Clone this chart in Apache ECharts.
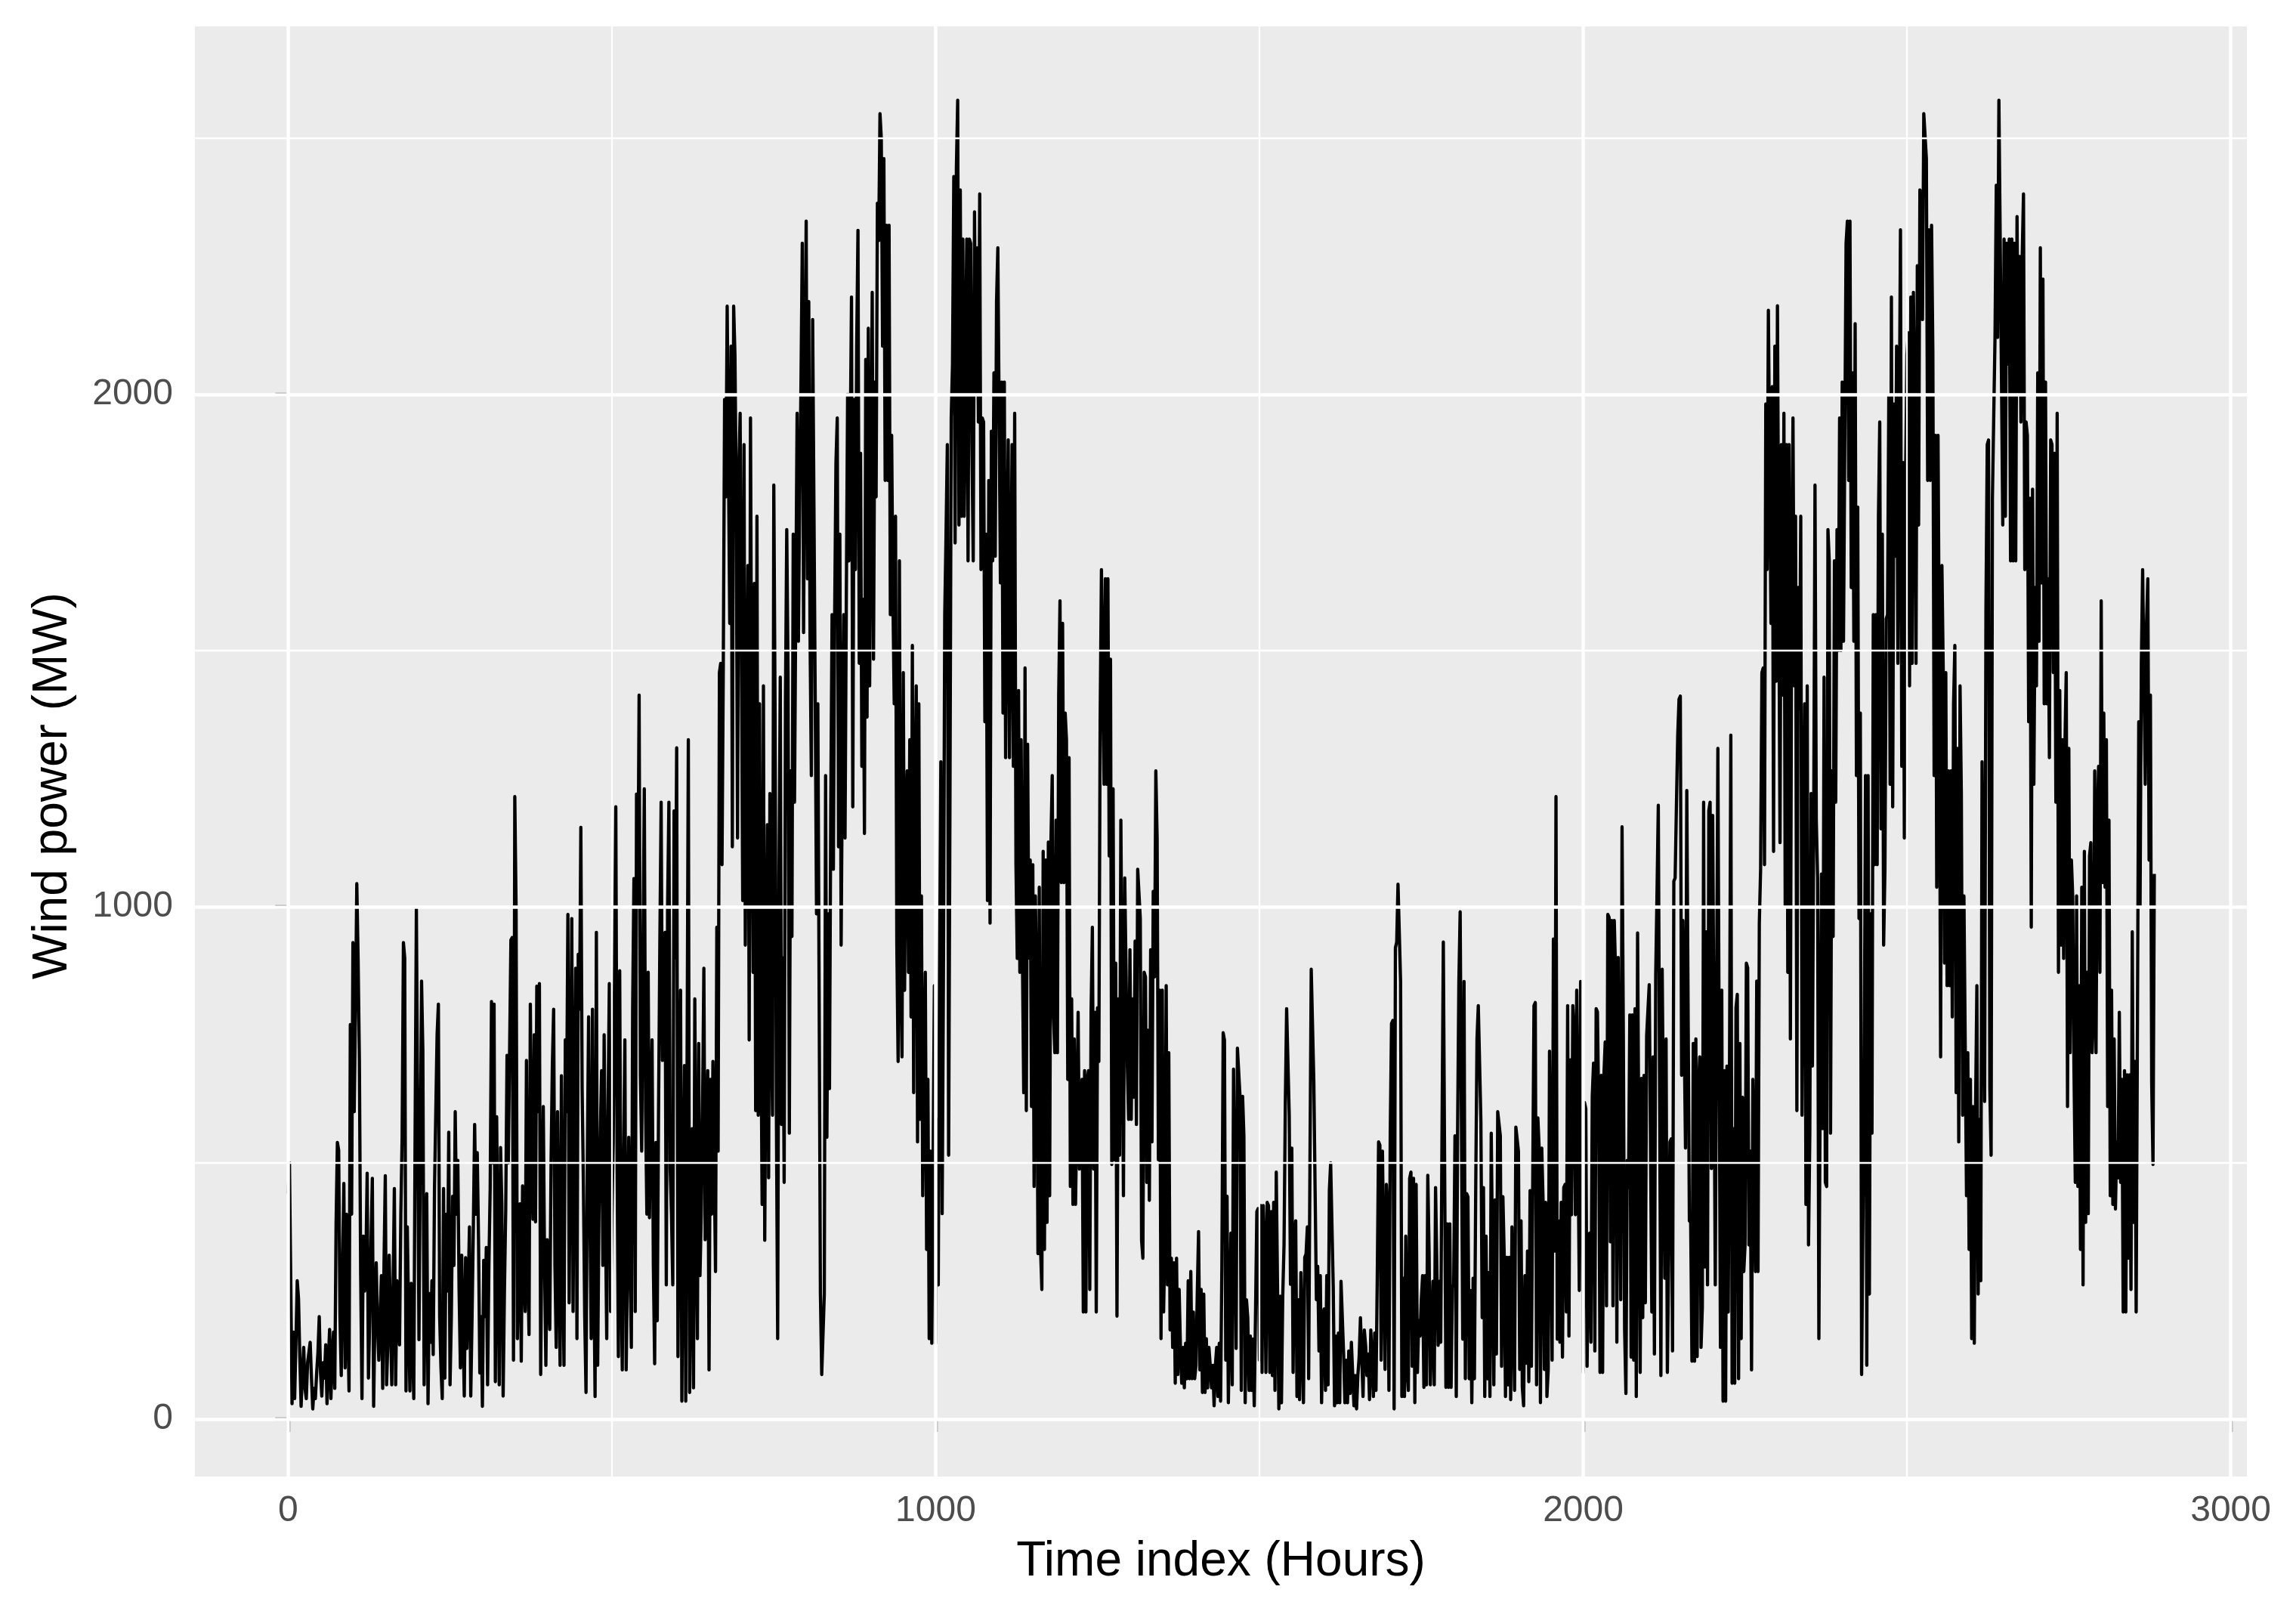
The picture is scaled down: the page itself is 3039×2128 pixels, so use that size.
<!DOCTYPE html>
<html><head><meta charset="utf-8">
<script src="https://cdn.jsdelivr.net/npm/echarts@6/dist/echarts.min.js"></script>
<style>html,body{margin:0;padding:0;background:#ffffff}#c{width:3039px;height:2128px}</style>
</head><body><div id="c"></div>
<script>
// Tick values
const xMajor = [0, 1000, 2000, 3000];
const xMinor = [500, 1500, 2500];
const yMajor = [0, 1000, 2000];
const yMinor = [500, 1500, 2500];

const HOUR_STEP = 2;
const segStart = [0, 352, 726, 1086, 1448, 1806, 2166, 2522];

const powerA = [
440,500,270,30,170,40,150,270,235,120,
25,90,140,60,40,110,130,150,80,20,
60,40,90,130,200,90,45,110,80,145,
30,110,175,40,120,170,60,380,540,525,
200,85,300,460,100,400,200,55,770,400,
930,600,800,1045,900,700,280,40,357,250,
300,480,80,200,350,470,25,200,305,180,
115,200,280,60,300,475,67,150,320,200,
67,250,450,67,270,200,145,400,550,930,
900,55,375,200,55,265,150,40,550,995,
600,155,500,855,720,67,300,440,30,245,
150,270,126,450,600,750,810,200,100,40,
450,80,400,250,560,67,200,435,300,600,
400,505,250,100,320,180,45,315,138,250,
375,45,200,375,575,400,520,350,90,200,
25,310,200,335,67,300,450,815,500,810,
73,590,300,67,530,420,45,250,410,710,
500,720,935,940,115,1215];

const powerB = [
1000,157,300,420,113,455,300,210,700,300,
165,810,500,390,750,385,845,600,850,87,
400,610,300,105,350,250,175,500,690,800,
300,140,600,300,105,670,300,105,740,600,
985,227,600,977,210,600,880,157,907,800,
1155,645,455,200,52,505,785,400,157,800,
300,44,950,105,400,550,680,300,750,400,
157,600,850,210,400,540,870,1195,500,122,
875,300,96,500,740,96,300,550,300,140,
800,1055,210,1220,1000,1413,670,523,900,1230,
600,400,872,393,600,740,300,108,540,192,
600,925,1204,700,942,950,262,1000,1204,488,
400,262,1187,900,1310,122,500,837,35,400,
690,35,670,1326,52,300,567,61,820,400,
157,733,280,400,610,880,350,500,680,96,
663,400,698,500,288,960,523,1457,1475,1082,
1466,1990,1800,2172,2172,1553,2094,1117,2172,2077,
1800,1134,1850,1963,1500,1012,1902,925,1300,1666,
740,1954,1300,872,1631,602,1762];

const powerC = [
593,1396,800,419,1431,349,800,1160,471,1221,
800,593,1823,1378,600,157,1055,1448,575,900,
462,1400,1736,1457,558,1265,942,1727,1204,1600,
1963,1518,1800,2024,2295,1535,2000,2338,1640,2181,
1527,1256,2146,1780,1400,986,1396,837,244,87,
87,244,1256,550,986,645,1200,1570,1073,1570,
1867,1954,1117,1727,925,1300,1570,1134,1600,2000,
1675,1900,2190,1195,1990,1658,2094,2320,1475,1885,
1274,1600,1143,2068,1370,2129,1431,1800,2199,1483,
2024,1800,2373,2300,2548,2500,2094,2460,1832,2330,
1832,2330,1570,1920,1600,1396,1762,925,698,1675,
872,707,1457,837,1187,1265,872,1326,785,1510,
637,1200,1431,541,1396,585,1021,436,700,872,
331,663,157,523,148,500,846,148,585,262,
872,1283,401,872,1570,1727,1902,515,1187,1954,
2059,2425,1710,2443,2574,1745,2399,1762,2303,1762,
2059,2303,1675,2303,2295,1900,1675,2356,2000,2286,
1946,2391,1658,1954,1946,1361,1727,1012,1832,968];

const powerD = [
1928,1675,2042,1684,2181,2286,2286,1632,2024,1378,
2024,1291,1649,1911,1291,1600,1902,1274,1963,1082,
899,1422,872,1326,899,637,1466,602,1317,900,
1091,610,1082,454,1021,820,323,1038,331,253,
1108,331,1091,384,1126,436,1126,1256,785,715,
1169,715,1413,1597,1047,1553,1047,1378,1326,663,
1291,454,820,419,742,419,593,794,488,532,
663,209,680,209,663,680,253,794,960,488,
794,209,803,698,1361,1658,1658,1239,1640,1239,
1640,1099,1483,497,1230,506,890,201,820,515,
1169,1169,436,1056,1056,689,585,916,585,820,
628,933,575,1073,1073,977,349,314,872,863,
462,759,427,916,541,1030,863,1265,1134,506,
837,157,837,209,349,846,262,715,174,314,
140,305,70,314,87,253,140,70,140,61,
148,79,270,79,288,79,209,79,105,244,
366,96,253,52,244,52,157,61,140,105,
61,105,26,105,140,44,148,35,300,754,
740];

const powerE = [
115,435,32,204,363,67,683,683,138,724,
724,630,56,630,553,32,233,198,56,162,
56,156,26,209,405,411,115,417,91,417,
334,91,423,417,91,405,85,423,56,482,
482,20,240,32,240,340,618,801,801,594,
263,529,91,357,387,44,233,38,286,286,
32,316,322,375,79,493,878,878,659,446,
233,298,133,280,32,204,215,56,280,67,
446,500,500,257,26,162,32,168,32,269,
269,127,32,115,32,133,50,150,150,26,
85,20,85,121,198,198,44,174,144,85,
127,38,174,174,44,168,56,280,541,535,
115,523,523,97,458,399,56,553,772,778,
20,920,931,1044,1044,854,44,275,44,357,
103,56,470,482,103,470,32,458,91,192,
162,233,280,62,280,67,476,328,67,67,
269,67,452,452,144,269,150,564,931,931,
62,381,62,381,62,257,263,553,44];

const powerF = [
558,854,990,990,156,854,79,440,434,79,
251,32,275,79,446,742,807,807,582,198,
452,44,357,79,286,44,558,558,67,428,
127,600,600,553,103,434,322,44,316,67,
316,38,375,375,56,570,570,523,97,387,
62,26,280,109,328,73,446,103,452,807,
813,67,588,529,32,529,428,97,423,44,
97,718,718,115,937,328,1215,156,387,150,
423,121,452,458,209,807,162,701,399,807,
754,399,837,837,251,854,837,91,618,606,
103,316,363,150,630,695,133,801,795,600,
91,671,91,671,736,221,985,979,346,973,
221,973,872,150,901,901,233,1156,754,174,
50,505,452,789,121,789,115,801,44,949,
949,91,665,198,671,227,748,748,848,848,
209,707,127,866,1026,1198,1198,85,878,878,
275,742,91,91,541,547,133,1050,1056,1198,
1334,1405,1411,671,973,973,529,1227,1227,387];

const powerG = [
384,113,733,113,742,122,645,707,140,218,
1204,297,951,262,1187,1204,489,1178,1178,262,
820,1309,1309,140,837,35,680,35,689,209,
698,1335,70,567,70,803,829,79,733,157,
628,288,340,890,881,340,523,96,663,663,
288,855,288,968,1073,1457,1466,1082,1981,1658,
2164,2164,1553,2015,1108,2094,1440,2173,2173,1125,
1902,1413,1963,1003,1902,872,1902,742,1614,1954,
1431,1762,602,1623,1387,1762,593,1073,1396,419,
1431,340,558,1221,689,1160,1823,1169,1056,157,
663,1064,567,1448,462,454,1736,1675,558,1265,
942,1675,1204,1736,1500,1954,1500,2024,1518,1518,
2295,2338,1832,2338,1623,2042,1518,2138,1256,1780,
977,1378,87,87,680,1256,105,1256,244,986,
558,1570,1082,1570,1082,1762,1946,1152,1727,925,
1073,1562,1570,1998,1239,2190,1195,1981,1684,2094,
1475,1902,2321,1274,1867,1134,1850,2077,2120,1431,
2190,1475,2199,1954,1475,2251,1745,2399];

const powerH = [
2391,2146,2548,2548,2460,1832,2321,1832,2330,2085,
1256,1920,1038,1920,1466,707,1666,1466,890,1457,
846,1265,846,1265,785,1396,1510,637,1309,541,
1431,1221,593,1021,1021,436,715,331,663,157,
610,148,610,846,244,585,270,1283,1283,620,
1579,1902,1911,645,515,1797,1954,2111,2408,2111,
2574,2574,2033,1745,2303,1762,2295,2059,2303,1675,
2303,1675,2295,1675,2347,2000,2269,1946,2269,2391,
1658,1946,1920,1361,1797,960,1815,1239,1623,1431,
2042,1518,2286,1632,2225,1396,2024,1396,1640,1291,
1911,1902,1457,1885,1204,1963,872,1422,925,1326,
899,1317,1457,610,1309,715,1091,1021,680,462,
1021,454,846,331,1038,262,1108,384,872,401,
1099,1125,715,785,1265,715,1169,1274,872,1597,
1047,1378,1038,1326,610,1169,436,837,419,742,
410,541,471,794,462,663,209,680,209,672,
314,672,253,951,384,698,209,785,1361,1003,
1475,1658,1658,1239,1553,1640,1091,1413,654,497,
1064];

const segments = [powerA, powerB, powerC, powerD, powerE, powerF, powerG, powerH];
const seriesData = [];
segments.forEach((seg, k) => {
  seg.forEach((v, i) => seriesData.push([segStart[k] + HOUR_STEP * i, v]));
});
seriesData.sort((a, b) => a[0] - b[0]);

const FONT = '"Liberation Sans", Arial, Helvetica, sans-serif';
const MAJOR_W = 4.5, MINOR_W = 2.3;

const gridLines = [];
xMinor.forEach(v => gridLines.push({ xAxis: v, lineStyle: { color: '#ffffff', width: MINOR_W, type: 'solid' } }));
yMinor.forEach(v => gridLines.push({ yAxis: v, lineStyle: { color: '#ffffff', width: MINOR_W, type: 'solid' } }));
xMajor.forEach(v => gridLines.push({ xAxis: v, lineStyle: { color: '#ffffff', width: MAJOR_W, type: 'solid' } }));
yMajor.forEach(v => gridLines.push({ yAxis: v, lineStyle: { color: '#ffffff', width: MAJOR_W, type: 'solid' } }));

const plain = v => String(v);

const chart = echarts.init(document.getElementById('c'), null, { renderer: 'canvas', width: 3039, height: 2128 });
chart.setOption({
  animation: false,
  backgroundColor: '#ffffff',
  grid: { left: 258, right: 65, top: 35, bottom: 174, show: true, backgroundColor: '#EBEBEB', borderWidth: 0 },
  xAxis: {
    type: 'value', min: -144, max: 3025,
    axisLine: { show: false },
    splitLine: { show: false },
    axisTick: { show: true, customValues: xMajor, length: 17, lineStyle: { color: '#333333', width: 4.3 } },
    axisLabel: { customValues: xMajor, formatter: plain, margin: 22, color: '#4D4D4D', fontSize: 48, fontFamily: FONT, lineHeight: 48 }
  },
  yAxis: {
    type: 'value', min: -112, max: 2718,
    axisLine: { show: false },
    splitLine: { show: false },
    axisTick: { show: true, customValues: yMajor, length: 17, lineStyle: { color: '#333333', width: 4.3 } },
    axisLabel: { customValues: yMajor, formatter: plain, margin: 29, color: '#4D4D4D', fontSize: 48, fontFamily: FONT }
  },
  series: [
    {
      type: 'line', data: [], z: 1, silent: true,
      markLine: { silent: true, symbol: ['none', 'none'], label: { show: false }, animation: false, data: gridLines }
    },
    {
      type: 'line', data: seriesData, z: 3, showSymbol: false, symbol: 'none', silent: true,
      sampling: null,
      lineStyle: { color: '#000000', width: 4.3, join: 'round', cap: 'butt' }
    }
  ],
  graphic: [
    { type: 'text', x: 1616, y: 2067, silent: true,
      style: { text: 'Time index (Hours)', fontSize: 64, fontFamily: FONT, fill: '#000000',
               align: 'center', verticalAlign: 'middle', textAlign: 'center', textVerticalAlign: 'middle' } },
    { type: 'text', x: 70, y: 1040, rotation: Math.PI / 2, silent: true,
      style: { text: 'Wind power (MW)', fontSize: 64, fontFamily: FONT, fill: '#000000',
               align: 'center', verticalAlign: 'middle', textAlign: 'center', textVerticalAlign: 'middle' } }
  ]
});
</script>
</body></html>
